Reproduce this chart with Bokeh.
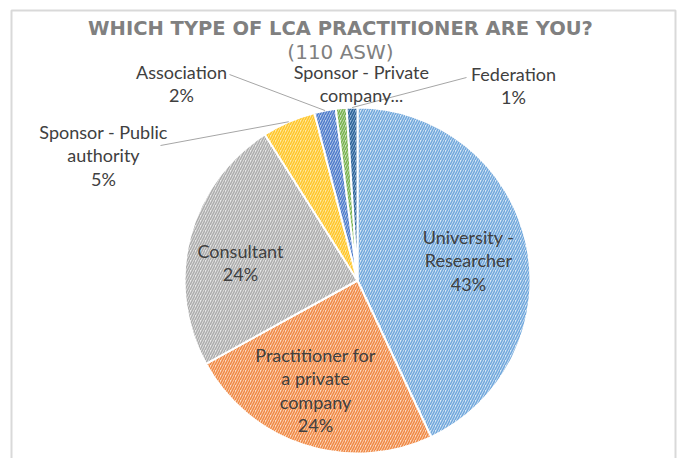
import math
from bokeh.plotting import figure
from bokeh.models import ColumnDataSource, Range1d
from bokeh.core.properties import value
from bokeh.embed import file_html
from bokeh.resources import INLINE

# ---- data ----
categories = ["University - Researcher", "Practitioner for a private company", "Consultant",
              "Sponsor - Public authority", "Association", "Sponsor - Private company", "Federation"]
percent = [43, 24, 24, 5, 2, 1, 1]
label_lines = [["University -", "Researcher", "43%"],
               ["Practitioner for", "a private", "company", "24%"],
               ["Consultant", "24%"],
               ["Sponsor - Public", "authority", "5%"],
               ["Association", "2%"],
               ["Sponsor - Private", "company..."],
               ["Federation", "1%"]]
hatch_colors = ["#72A8DC", "#F08A45", "#ADADAD", "#FFC62A", "#4F7CCB", "#78B24F", "#2E6397"]
fill_colors = ["#DAE8F6", "#FBDAC4", "#E8E8E8", "#FFEAA8", "#BDCFEC", "#CFE5C0", "#98BADD"]
title_text = "WHICH TYPE OF LCA PRACTITIONER ARE YOU?"
subtitle_text = "(110 ASW)"

# ---- layout (page pixels -> data units, 1:1) ----
W, H = 679, 458
def px(x): return x
def py(y): return H - y

cx, cy, r = px(357), py(280), 173

# label anchor (centre of first line) in page px, and whether a leader is drawn
label_pos = [(468, 236), (315, 354), (240, 250), (103, 131), (181, 71), (361, 71), (513, 73)]
line_h = 23.5
leader_start = [None, None, None, (160, 145), (229, 74), None, (466, 77)]

total = float(sum(percent))
starts, ends, mids = [], [], []
cum = 0.0
for v in percent:
    a0 = math.pi / 2 - 2 * math.pi * cum / total
    cum += v
    a1 = math.pi / 2 - 2 * math.pi * cum / total
    starts.append(a0); ends.append(a1); mids.append((a0 + a1) / 2)

src = ColumnDataSource(dict(cat=categories, val=percent, start=starts, end=ends,
                            fill=fill_colors, hatch=hatch_colors))

p = figure(width=W, height=H, x_range=Range1d(0, W), y_range=Range1d(0, H),
           output_backend="svg", toolbar_location=None, min_border=0)
p.axis.visible = False
p.grid.visible = False
p.outline_line_color = None
p.background_fill_color = "white"
p.border_fill_color = "white"

# chart border
p.line([px(11), px(11), px(675), px(675)], [0, py(10), py(10), 0],
       line_color="#D9D9D9", line_width=2)

p.wedge(x=cx, y=cy, radius=r, start_angle="start", end_angle="end", direction="clock",
        source=src, fill_color="fill", line_color="white", line_width=2,
        hatch_pattern="/", hatch_color="hatch", hatch_scale=5, hatch_weight=1.6)

# leader lines from label to slice edge
for i, s in enumerate(leader_start):
    if s is None:
        continue
    ex = cx + r * math.cos(mids[i])
    ey = cy + r * math.sin(mids[i])
    p.line([px(s[0]), ex], [py(s[1]), ey], line_color="#A6A6A6", line_width=1)

# labels
xs, ys, ts = [], [], []
for i, lines in enumerate(label_lines):
    lx, ly = label_pos[i]
    for k, t in enumerate(lines):
        xs.append(px(lx)); ys.append(py(ly + k * line_h)); ts.append(t)
p.text(x=xs, y=ys, text=ts, text_align="center", text_baseline="middle",
       text_font=value("Lato"), text_font_size="18px", text_color="#404040")

# title
p.text(x=[px(340)], y=[py(28)], text=[title_text], text_align="center", text_baseline="middle",
       text_font=value("DejaVu Sans"), text_font_size="19.5px", text_font_style="bold",
       text_color="#808080")
p.text(x=[px(340)], y=[py(51)], text=[subtitle_text], text_align="center", text_baseline="middle",
       text_font=value("DejaVu Sans"), text_font_size="20px", text_color="#808080")

open("out.html", "w").write(file_html(p, INLINE))
